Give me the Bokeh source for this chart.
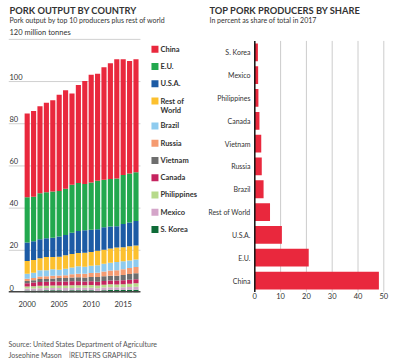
from bokeh.plotting import figure
from bokeh.layouts import row
from bokeh.models import (ColumnDataSource, Title, FixedTicker, Range1d)
from bokeh.core.properties import value
from bokeh.embed import file_html
from bokeh.resources import INLINE

FONT = "Lato"
TXT = "#333333"

# ---------------- data ----------------
years = list(range(2000, 2018))
china = [39.7, 40.6, 41.3, 42.5, 43.2, 45.6, 46.7, 43.2, 46.4, 48.9, 51.0, 50.7, 53.3, 54.9, 56.6, 54.9, 53.3, 53.6]
eu = [21.4, 21.1, 21.8, 21.8, 21.9, 21.6, 21.9, 22.8, 22.7, 21.9, 22.5, 23.0, 22.5, 22.5, 22.6, 23.2, 23.2, 23.1]
usa = [8.8, 8.9, 9.0, 8.9, 9.2, 9.5, 9.7, 10.0, 10.5, 10.6, 10.5, 10.2, 10.7, 10.5, 10.1, 11.1, 11.3, 11.6]
rest = [6.0, 6.0, 5.7, 6.2, 5.8, 6.2, 6.3, 6.4, 6.3, 6.7, 6.5, 6.9, 6.6, 6.7, 6.9, 6.6, 6.7, 6.6]
brazil = [2.40, 2.55, 2.90, 2.87, 3.01, 2.78, 3.07, 3.24, 3.51, 3.30, 3.41, 3.50, 3.68, 3.71, 3.81, 3.74, 3.53, 3.62]
russia = [1.10, 1.10, 1.20, 1.30, 1.30, 1.20, 1.30, 1.50, 1.70, 1.80, 1.98, 2.06, 2.30, 2.40, 2.60, 2.80, 2.90, 3.00]
vietnam = [1.00, 1.05, 1.40, 1.30, 1.45, 1.60, 1.70, 1.83, 1.85, 1.85, 2.00, 2.20, 2.20, 2.30, 2.35, 2.45, 2.70, 2.80]
canada = [1.60, 1.70, 1.85, 1.88, 1.93, 1.91, 1.90, 1.89, 1.90, 1.79, 1.77, 1.82, 1.84, 1.82, 1.80, 1.90, 1.92, 1.95]
philippines = [0.95, 1.05, 1.10, 1.15, 1.15, 1.18, 1.22, 1.25, 1.23, 1.24, 1.26, 1.28, 1.31, 1.34, 1.35, 1.37, 1.50, 1.55]
mexico = [0.95, 1.00, 1.05, 1.05, 1.06, 1.10, 1.11, 1.15, 1.16, 1.16, 1.17, 1.20, 1.24, 1.28, 1.29, 1.32, 1.38, 1.45]
skorea = [0.90, 0.95, 1.00, 1.05, 1.10, 1.03, 1.00, 1.04, 1.06, 1.06, 1.11, 0.84, 1.09, 1.25, 1.20, 1.22, 1.27, 1.33]

# stacking order: bottom -> top
stack_keys = ["skorea", "mexico", "philippines", "canada", "vietnam", "russia",
              "brazil", "rest", "usa", "eu", "china"]
stack_labels = ["S. Korea", "Mexico", "Philippines", "Canada", "Vietnam", "Russia",
                "Brazil", "Rest of\nWorld", "U.S.A.", "E.U.", "China"]
stack_colors = ["#0e6b38", "#d4a5c9", "#b7da8b", "#c5245f", "#6e6e6e", "#f59b71",
                "#8ecbef", "#fcc02e", "#1c5ba5", "#22a84e", "#e9283d"]

y_ticks = [0, 20, 40, 60, 80, 100, 120]
y_tick_labels = ["0", "20", "40", "60", "80", "100", "120 million tonnes"]
x_ticks = [2000, 2005, 2010, 2015]

# share chart (bottom -> top)
share_countries = ["China", "E.U.", "U.S.A.", "Rest of World", "Brazil", "Russia",
                   "Vietnam", "Canada", "Philippines", "Mexico", "S. Korea"]
share_values = [48.1, 20.9, 10.5, 5.9, 3.4, 2.7, 2.5, 1.8, 1.4, 1.3, 1.2]
share_ticks = [0, 10, 20, 30, 40, 50]

left_title = "PORK OUTPUT BY COUNTRY"
left_sub = "Pork output by top 10 producers plus rest of world"
right_title = "TOP PORK PRODUCERS BY SHARE"
right_sub = "In percent as share of total in 2017"
source_txt = "Source: United States Department of Agriculture"
credit_txt = "Josephine Mason\u00a0\u00a0\u00a0\u00a0|REUTERS GRAPHICS"

H = 358
BOTTOM = 65
FRAME_H = H - BOTTOM           # frames start at the canvas top
TITLE_BASE = 9.5               # vertical offset of main titles
SUB_BASE = 19.5                # vertical offset of subtitles
TITLE_SIZE = "9.3px"


def foot_title(text, standoff):
    return Title(text=text, text_font=FONT, text_font_size="7px", text_font_style="normal",
                 text_color="#555555", standoff=standoff, align="left")


# ---------------- left chart ----------------
src = ColumnDataSource(dict(year=years, china=china, eu=eu, usa=usa, rest=rest, brazil=brazil,
                            russia=russia, vietnam=vietnam, canada=canada,
                            philippines=philippines, mexico=mexico, skorea=skorea))

PX_PER_YEAR = 6.4
PX_PER_UNIT = 254.0 / 120.0
x0 = 1997.08
x_bars_end = 2017.7
x1 = x0 + 200 / PX_PER_YEAR
y_end = FRAME_H / PX_PER_UNIT

p = figure(width=208, height=H, x_range=Range1d(x0, x1), y_range=Range1d(0, y_end),
           output_backend="svg", toolbar_location=None,
           min_border_left=8, min_border_right=0, min_border_top=0, min_border_bottom=BOTTOM)
p.outline_line_color = None
p.yaxis.visible = False
p.xgrid.grid_line_color = None
p.ygrid.grid_line_color = None

# titles
p.text(x=[x0], y=[y_end], text=[left_title], x_offset=1, y_offset=TITLE_BASE,
       text_font=value(FONT), text_font_size=TITLE_SIZE, text_font_style="bold",
       text_color=TXT, text_baseline="alphabetic")
p.text(x=[x0], y=[y_end], text=[left_sub], x_offset=1, y_offset=SUB_BASE,
       text_font=value(FONT), text_font_size="7px", text_color=TXT, text_baseline="alphabetic")

# gridlines limited to the bar area
p.segment(x0=[x0] * (len(y_ticks) - 1), x1=[x_bars_end] * (len(y_ticks) - 1),
          y0=y_ticks[1:], y1=y_ticks[1:], line_color="#d0d0d0", line_width=1)

rs = p.vbar_stack(stack_keys, x="year", width=0.8, color=stack_colors, line_color=None, source=src)

# baseline
p.segment(x0=[x0], x1=[x_bars_end], y0=[0], y1=[0], line_color="#444444", line_width=3)

p.xaxis.ticker = FixedTicker(ticks=x_ticks)
p.xaxis.axis_line_color = None
p.xaxis.major_tick_line_color = None
p.xaxis.minor_tick_line_color = None
p.xaxis.major_tick_out = 0
p.xaxis.major_tick_in = 0
p.xaxis.minor_tick_out = 0
p.xaxis.major_label_standoff = 8
p.xaxis.major_label_text_font = FONT
p.xaxis.major_label_text_font_size = "7.5px"
p.xaxis.major_label_text_color = TXT

p.text(x=[x0] * len(y_ticks), y=y_ticks, text=y_tick_labels, text_font=value(FONT),
       text_font_size="7.5px", text_color=TXT, text_baseline="bottom", x_offset=1, y_offset=-2)

# legend (top -> bottom), right of the bars
leg_labels = stack_labels[::-1]
leg_colors = stack_colors[::-1]
leg_px = []
pos = 10.0
for lab in leg_labels:
    leg_px.append(pos)
    pos += 17.3 + (7.7 if "\n" in lab else 0)
leg_y = [120 - d / PX_PER_UNIT for d in leg_px]
leg_x = [x_bars_end + 14.5 / PX_PER_YEAR] * len(leg_labels)
p.rect(x=leg_x, y=leg_y, width=7, height=7, width_units="screen", height_units="screen",
       color=leg_colors, line_color=None)
p.text(x=leg_x, y=leg_y, text=leg_labels, x_offset=5.5, text_font=value(FONT),
       text_font_size="7.5px", text_font_style="bold", text_color=TXT,
       text_baseline="top", y_offset=-4.5, text_line_height=1.05)

p.add_layout(foot_title(" ", 18), "below")
p.add_layout(foot_title(source_txt, 1), "below")
p.add_layout(foot_title(credit_txt, 0), "below")

# ---------------- right chart ----------------
PX_PER_PCT = 2.58
ZERO_PX = 46.3              # x=0 sits this far right of the figure's left edge
BAND = 22.9                 # px per category
BOTTOM_PAD = 12.0           # px from frame bottom to centre of lowest bar
qx0 = -ZERO_PX / PX_PER_PCT
qx1 = qx0 + 180 / PX_PER_PCT
qy0 = -BOTTOM_PAD / BAND
qy1 = qy0 + FRAME_H / BAND
idx = list(range(len(share_countries)))
n = len(share_countries)

q = figure(width=192, height=H, x_range=Range1d(qx0, qx1), y_range=Range1d(qy0, qy1),
           output_backend="svg", toolbar_location=None,
           min_border_left=0, min_border_right=12, min_border_top=0, min_border_bottom=BOTTOM)
q.outline_line_color = None
q.yaxis.visible = False
q.xgrid.grid_line_color = None
q.ygrid.grid_line_color = None

q.text(x=[qx0], y=[qy1], text=[right_title], x_offset=1, y_offset=TITLE_BASE,
       text_font=value(FONT), text_font_size=TITLE_SIZE, text_font_style="bold",
       text_color=TXT, text_baseline="alphabetic")
q.text(x=[qx0], y=[qy1], text=[right_sub], x_offset=1, y_offset=SUB_BASE,
       text_font=value(FONT), text_font_size="7px", text_color=TXT, text_baseline="alphabetic")

# vertical gridlines over the bar band area
q.segment(x0=share_ticks[1:], x1=share_ticks[1:], y0=[-0.5] * 5, y1=[n - 0.5] * 5,
          line_color="#cccccc", line_width=1)

q.hbar(y=idx, right=share_values, height=0.78, color="#e9283d", line_color=None)

# category axis line and labels
q.segment(x0=[0], x1=[0], y0=[-0.5], y1=[n - 0.5], line_color="#111111", line_width=1.5)
q.text(x=[0] * n, y=idx, text=share_countries, x_offset=-4.3, text_align="right",
       text_baseline="middle", text_font=value(FONT), text_font_size="7px", text_color=TXT)

q.xaxis.ticker = FixedTicker(ticks=share_ticks)
q.xaxis.axis_line_color = None
q.xaxis.major_tick_line_color = None
q.xaxis.minor_tick_line_color = None
q.xaxis.major_tick_out = 0
q.xaxis.major_tick_in = 0
q.xaxis.major_label_standoff = 0
q.xaxis.major_label_text_font = FONT
q.xaxis.major_label_text_font_size = "7.5px"
q.xaxis.major_label_text_color = TXT

layout = row(p, q)
open("out.html", "w").write(file_html(layout, INLINE))
